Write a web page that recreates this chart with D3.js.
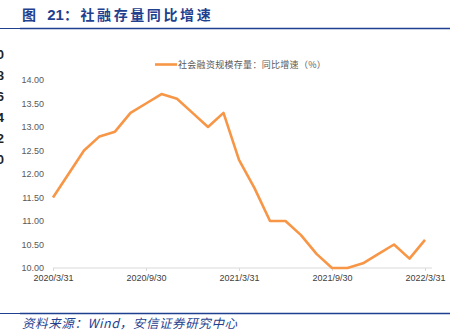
<!DOCTYPE html>
<html>
<head>
<meta charset="utf-8">
<script src="https://d3js.org/d3.v7.min.js"></script>
<style>
  body { margin: 0; background: #fff; }
  svg { display: block; }
</style>
</head>
<body>
<svg id="chart" width="450" height="335"></svg>
<script>
  // monthly data, 2020/3 .. 2022/3
  const months = ["2020/3/31", "2020/4/30", "2020/5/31", "2020/6/30", "2020/7/31", "2020/8/31",
    "2020/9/30", "2020/10/31", "2020/11/30", "2020/12/31", "2021/1/31", "2021/2/28",
    "2021/3/31", "2021/4/30", "2021/5/31", "2021/6/30", "2021/7/31", "2021/8/31",
    "2021/9/30", "2021/10/31", "2021/11/30", "2021/12/31", "2022/1/31", "2022/2/28", "2022/3/31"];
  const growth = [11.5, 12.0, 12.5, 12.8, 12.9, 13.3, 13.5, 13.7, 13.6, 13.3, 13.0, 13.3,
    12.3, 11.7, 11.0, 11.0, 10.7, 10.3, 10.0, 10.0, 10.1, 10.3, 10.5, 10.2, 10.6];
  const xTickLabels = ["2020/3/31", "2020/9/30", "2021/3/31", "2021/9/30", "2022/3/31"];
  const yTicks = [10, 10.5, 11, 11.5, 12, 12.5, 13, 13.5, 14];
  const seriesName = "社会融资规模存量：同比增速（%）";
  // cut-off labels of the neighbouring chart at the left edge
  const edgeDigits = ["0", "8", "6", "4", "2", "0"];

  const svg = d3.select("#chart");
  const blue = "#1f3f8f";

  // header
  const title = svg.append("text")
    .attr("x", 22).attr("y", 20)
    .attr("fill", blue)
    .style("font-family", "'Noto Sans CJK SC', sans-serif")
    .style("font-weight", "bold")
    .style("font-size", "14px");
  title.append("tspan").style("letter-spacing", "4px").text("图 ");
  title.append("tspan").style("font-family", "Liberation Sans, sans-serif").style("font-size", "15px").text("21");
  title.append("tspan").style("letter-spacing", "2.6px").text("：社融存量同比增速");

  svg.append("line").attr("x1", 0).attr("x2", 20).attr("y1", 28.5).attr("y2", 28.5)
    .attr("stroke", blue).attr("stroke-width", 1);
  svg.append("line").attr("x1", 20).attr("x2", 450).attr("y1", 28.5).attr("y2", 28.5)
    .attr("stroke", blue).attr("stroke-width", 1.6);

  // left edge fragments
  svg.selectAll("text.edge").data(edgeDigits).join("text")
    .attr("class", "edge")
    .attr("x", 4).attr("y", (d, i) => 59 + i * 21)
    .attr("text-anchor", "end")
    .style("font-family", "Liberation Sans, sans-serif")
    .style("font-weight", "bold")
    .style("font-size", "13px")
    .attr("fill", "#222")
    .text(d => d);

  const x = d3.scalePoint().domain(months).range([53, 425]);
  const y = d3.scaleLinear().domain([10, 14]).range([268, 80]);

  // y axis labels (no line)
  const yAxis = svg.append("g")
    .attr("transform", "translate(46,0)")
    .call(d3.axisLeft(y).tickValues(yTicks).tickFormat(d3.format(".2f")).tickSize(0).tickPadding(2));
  yAxis.select(".domain").remove();
  yAxis.selectAll("text")
    .attr("fill", "#595959")
    .style("font-family", "Liberation Sans, sans-serif")
    .style("font-size", "9px");

  // x axis
  const xAxis = svg.append("g")
    .attr("transform", "translate(0,268)")
    .call(d3.axisBottom(x).tickValues(xTickLabels).tickSize(3).tickPadding(4).tickSizeOuter(0));
  xAxis.select(".domain")
    .attr("d", "M53,0H432")
    .attr("stroke", "#d9d9d9");
  xAxis.selectAll(".tick line").attr("stroke", "#d9d9d9");
  xAxis.selectAll("text")
    .attr("fill", "#404040")
    .style("font-family", "Liberation Sans, sans-serif")
    .style("font-size", "9px");

  // line
  const line = d3.line()
    .x((d, i) => x(months[i]))
    .y(d => y(d));

  svg.append("path")
    .datum(growth)
    .attr("d", line)
    .attr("fill", "none")
    .attr("stroke", "#f79646")
    .attr("stroke-width", 2.6)
    .attr("stroke-linejoin", "round");

  // legend
  svg.append("line")
    .attr("x1", 155).attr("x2", 177).attr("y1", 64.5).attr("y2", 64.5)
    .attr("stroke", "#f79646").attr("stroke-width", 2.6);
  svg.append("text")
    .attr("x", 178).attr("y", 68)
    .attr("fill", "#595959")
    .style("font-family", "'Noto Sans CJK SC', sans-serif")
    .style("font-size", "9px")
    .style("letter-spacing", "0.3px")
    .text(seriesName);

  // footer
  svg.append("line").attr("x1", 0).attr("x2", 20).attr("y1", 313.5).attr("y2", 313.5)
    .attr("stroke", blue).attr("stroke-width", 1);
  svg.append("line").attr("x1", 20).attr("x2", 450).attr("y1", 313.5).attr("y2", 313.5)
    .attr("stroke", blue).attr("stroke-width", 1.6);

  svg.append("text")
    .attr("x", 22).attr("y", 328)
    .attr("fill", blue)
    .style("font-family", "'Noto Sans CJK SC', sans-serif")
    .style("font-style", "italic")
    .style("font-size", "12.5px")
    .style("letter-spacing", "0.6px")
    .text("资料来源：Wind，安信证券研究中心");
</script>
</body>
</html>
